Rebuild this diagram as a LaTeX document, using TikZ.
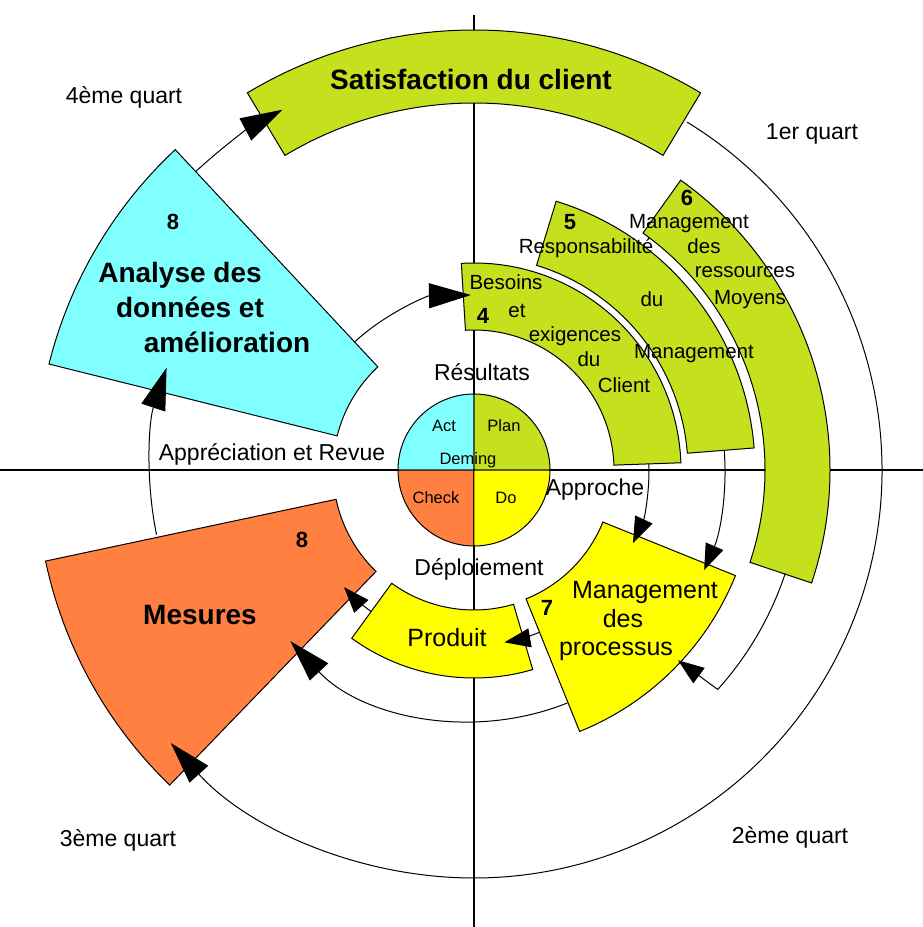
\documentclass[tikz,border=0pt]{standalone}
\usepackage{fontspec}
\setmainfont{Liberation Sans}
\usepackage{tikz}
\usetikzlibrary{arrows.meta}
\usepackage{xcolor}

\definecolor{vertA}{RGB}{197,225,30}
\definecolor{bleuA}{RGB}{128,255,255}
\definecolor{orangeA}{RGB}{255,128,64}
\definecolor{jauneA}{RGB}{255,255,0}

% secteur : couleur, angle debut, angle fin, rayon int, rayon ext
\newcommand{\secteur}[5]{%
  \filldraw[fill=#1] (#2:#4) arc[start angle=#2, end angle=#3, radius=#4]
    -- (#3:#5) arc[start angle=#3, end angle=#2, radius=#5] -- cycle;}

\begin{document}
\begin{tikzpicture}[x=1pt, y=1pt, line width=1pt,
    grande/.style={-{Triangle[length=42pt,width=25pt]}},
    petite/.style={-{Triangle[length=26pt,width=19pt]}},
    txt/.style={inner sep=0pt, text depth=0pt},
    quart/.style={txt, font=\fontsize{23}{27}\selectfont, text height=16.5pt},
    deming/.style={txt, font=\fontsize{16.5}{20}\selectfont, text height=11.9pt},
    secv/.style={txt, font=\fontsize{20.5}{24}\selectfont, text height=14.8pt},
    secj/.style={txt, font=\fontsize{25}{29}\selectfont, text height=18pt},
    gros/.style={txt, font=\fontsize{28}{32}\selectfont\bfseries, text height=20.2pt},
    num/.style={txt, font=\fontsize{22}{26}\selectfont\bfseries, text height=15.8pt}]
    \useasboundingbox (-474,-457) rectangle (449,470);
    % Axes
    \draw[line width=1.2pt] (-474,0) -- (449,0);
    \draw[line width=1.2pt] (0,455) -- (0,-457);
    % Secteurs
    \secteur{vertA}{59}{121}{367}{440}
    \secteur{bleuA}{133}{166}{141}{438}
    \secteur{orangeA}{192}{226}{141}{438}
    \secteur{vertA}{2}{93.5}{140}{207}
    \secteur{vertA}{4.5}{73}{214}{281}
    \secteur{vertA}{-18.5}{54.5}{291}{356}
    \secteur{jauneA}{-68}{-22}{139}{282}
    \secteur{jauneA}{-126}{-73.6}{140}{208}
    % Cercle de Deming
    \filldraw[fill=vertA] (0,0) -- (76,0) arc[start angle=0, end angle=90, radius=76] -- cycle;
    \filldraw[fill=bleuA] (0,0) -- (0,76) arc[start angle=90, end angle=180, radius=76] -- cycle;
    \filldraw[fill=orangeA] (0,0) -- (-76,0) arc[start angle=180, end angle=270, radius=76] -- cycle;
    \filldraw[fill=jauneA] (0,0) -- (0,-76) arc[start angle=270, end angle=360, radius=76] -- cycle;
    % Fleches
    \draw[grande] (58.5:408) arc[start angle=58.5, end angle=-138, radius=408];
    \draw[grande] (133:408) arc[start angle=133, end angle=118, radius=408];
    \draw[grande] (133:175) arc[start angle=133, end angle=91, radius=175];
    \draw[grande] (191.5:324) arc[start angle=191.5, end angle=161.6, radius=324];
    \draw[grande] (-68.2:251) arc[start angle=-68.2, end angle=-137, radius=251];
    \draw[petite] (2:175) arc[start angle=2, end angle=-24.7, radius=175];
    \draw[petite] (-68:175) arc[start angle=-68, end angle=-80, radius=175];
    \draw[petite] (-126:175) arc[start angle=-126, end angle=-138, radius=175];
    \draw[petite] (4.5:251) arc[start angle=4.5, end angle=-23.5, radius=251];
    \draw[petite] (-18.4:328) arc[start angle=-18.4, end angle=-42, radius=328] -- (-43:279);
    % Textes
    \node[gros] (satisf) at (-3,391) {Satisfaction du client};
    \node[quart] (q4) at (-350,375) {4ème quart};
    \node[quart] (q1) at (338,339) {1er quart};
    \node[quart] (q3) at (-356,-368) {3ème quart};
    \node[quart] (q2) at (316,-365) {2ème quart};
    \node[num] (n8a) at (-301,248) {8};
    \node[gros] (ana1) at (-294,198) {Analyse des};
    \node[gros] (ana2) at (-284,163) {données et};
    \node[gros] (ana3) at (-247,128) {amélioration};
    \node[num] (n8m) at (-172,-70) {8};
    \node[gros] (mes) at (-274,-144) {Mesures};
    \node[num] (n4) at (9,154) {4};
    \node[secv] (bes1) at (32,188) {Besoins};
    \node[secv] (bes2) at (43,160) {et};
    \node[secv] (bes3) at (101,136) {exigences};
    \node[secv] (bes4) at (115,111) {du};
    \node[secv] (bes5) at (150,85) {Client};
    \node[num] (n5) at (96,248) {5};
    \node[secv] (resp1) at (112,224) {Responsabilité};
    \node[secv] (resp2) at (178,171) {du};
    \node[secv] (resp3) at (220,119) {Management};
    \node[num] (n6) at (213,272) {6};
    \node[secv] (res1) at (215,249) {Management};
    \node[secv] (res2) at (230,224) {des};
    \node[secv] (res3) at (271,200) {ressources};
    \node[secv] (res4) at (276,173) {Moyens};
    \node[num] (n7) at (73,-138) {7};
    \node[secj] (proc1) at (171,-119) {Management};
    \node[secj] (proc2) at (149,-148) {des};
    \node[secj] (proc3) at (142,-176) {processus};
    \node[secj] (prod) at (-27,-167) {Produit};
    \node[quart] (resu) at (8,98) {Résultats};
    \node[quart] (appr) at (121,-17) {Approche};
    \node[quart] (depl) at (5,-97) {Déploiement};
    \node[quart] (revue) at (-202,18) {Appréciation et Revue};
    \node[deming] (act) at (-30,44) {Act};
    \node[deming] (plan) at (30,44) {Plan};
    \node[deming] (dem) at (-6,11) {Deming};
    \node[deming] (check) at (-38,-28) {Check};
    \node[deming] (do) at (32,-28) {Do};
\end{tikzpicture}
\end{document}
